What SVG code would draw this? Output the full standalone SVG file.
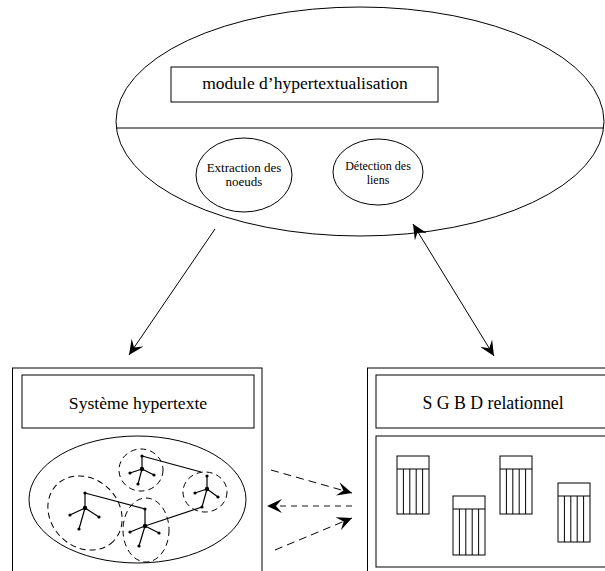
<svg xmlns="http://www.w3.org/2000/svg" width="605" height="571" viewBox="0 0 605 571">
<style>
.s{fill:none;stroke:#000;stroke-width:1}
.w{fill:#fff;stroke:#000;stroke-width:1}
.t{font-family:'Liberation Serif','DejaVu Serif',serif;fill:#000;text-anchor:middle}
.d{fill:none;stroke:#000;stroke-width:1;stroke-dasharray:8 5}
.c{fill:none;stroke:#000;stroke-width:1;stroke-dasharray:6 4}
.tr{fill:none;stroke:#000;stroke-width:1.2}
.n{fill:#000}
</style>
<defs>
<marker id="ah" markerWidth="16" markerHeight="14" refX="15" refY="7" orient="auto-start-reverse" markerUnits="userSpaceOnUse">
<path d="M15,7 L0,0 L6,7 L0,14 Z" fill="#000"/>
</marker>
</defs>

<g id="module">
<ellipse class="w" cx="360" cy="121.5" rx="244" ry="114.5"/>
<line class="s" x1="116" y1="128" x2="604" y2="128"/>
<rect class="w" x="171" y="67" width="267" height="35"/>
<text class="t" x="305" y="89" font-size="17.5" font-family="Liberation Serif, serif">module d’hypertextualisation</text>
</g>

<g id="extraction">
<ellipse class="w" cx="244" cy="175" rx="48" ry="37"/>
<text class="t" x="244" y="172" font-size="13" font-family="Liberation Serif, serif">Extraction des</text>
<text class="t" x="244" y="186" font-size="13" font-family="Liberation Serif, serif">noeuds</text>
</g>

<g id="detection">
<ellipse class="w" cx="378" cy="172" rx="45" ry="33"/>
<text class="t" x="378" y="170" font-size="12" font-family="Liberation Serif, serif">Détection des</text>
<text class="t" x="378" y="184" font-size="12" font-family="Liberation Serif, serif">liens</text>
</g>

<g id="hypertexte">
<rect class="w" x="12.5" y="368" width="249.5" height="210"/>
<rect class="w" x="22" y="375" width="232" height="53"/>
<text class="t" x="138" y="409" font-size="17.6" font-family="Liberation Serif, serif">Système hypertexte</text>
<ellipse class="w" cx="137.5" cy="499.5" rx="108.5" ry="63.5"/>
<ellipse class="c" cx="141" cy="470" rx="22" ry="21"/>
<ellipse class="c" cx="205" cy="492" rx="22" ry="20"/>
<ellipse class="c" cx="85" cy="513" rx="40" ry="34" transform="rotate(45 85 513)"/>
<ellipse class="c" cx="146" cy="530" rx="23" ry="32"/>
<path class="tr" d="M85,493 L85,508 M85,508 L70,515 M85,508 L99,517 M85,508 L79,529 M85,493 L145,509 L145,526 M145,526 L130,532 M145,526 L159,533 M145,526 L139,546 M142,456 L142,469 M142,469 L130,473 M142,469 L154,475 M142,469 L138,484 M142,456 L201,472 M207,476 L207,489 M207,489 L195,493 M207,489 L218,497 M207,489 L202,507 L145,526"/>
<g class="n">
<circle cx="85" cy="493" r="1.6"/><circle cx="85" cy="508" r="2.2"/><circle cx="70" cy="515" r="1.6"/><circle cx="99" cy="517" r="1.6"/><circle cx="79" cy="529" r="1.6"/>
<circle cx="145" cy="509" r="1.6"/><circle cx="145" cy="526" r="2.2"/><circle cx="130" cy="532" r="1.6"/><circle cx="159" cy="533" r="1.6"/><circle cx="139" cy="546" r="1.6"/>
<circle cx="142" cy="456" r="1.6"/><circle cx="142" cy="469" r="2.2"/><circle cx="130" cy="473" r="1.6"/><circle cx="154" cy="475" r="1.6"/><circle cx="138" cy="484" r="1.6"/>
<circle cx="207" cy="476" r="1.6"/><circle cx="207" cy="489" r="2.2"/><circle cx="195" cy="493" r="1.6"/><circle cx="218" cy="497" r="1.6"/><circle cx="202" cy="507" r="1.6"/>
</g>
</g>

<g id="sgbd">
<rect class="w" x="367.5" y="368" width="250" height="210"/>
<rect class="w" x="376" y="375" width="240" height="53"/>
<text class="t" x="493" y="409" font-size="17.8" font-family="Liberation Serif, serif">S G B D relationnel</text>
<rect class="w" x="376" y="436" width="240" height="131"/>
</g>

<g id="tables" class="s">
<rect x="397" y="456" width="32" height="58"/><line x1="397" y1="469" x2="429" y2="469"/>
<path d="M403.4,469V514M409.8,469V514M416.2,469V514M422.6,469V514"/>
<rect x="453" y="496" width="32" height="59"/><line x1="453" y1="509" x2="485" y2="509"/>
<path d="M459.4,509V555M465.8,509V555M472.2,509V555M478.6,509V555"/>
<rect x="500" y="456" width="32" height="58"/><line x1="500" y1="469" x2="532" y2="469"/>
<path d="M506.4,469V514M512.8,469V514M519.2,469V514M525.6,469V514"/>
<rect x="558" y="483" width="32" height="59"/><line x1="558" y1="496" x2="590" y2="496"/>
<path d="M564.4,496V542M570.8,496V542M577.2,496V542M583.6,496V542"/>
</g>

<g id="connectors">
<line class="s" x1="215" y1="229" x2="129" y2="355" marker-end="url(#ah)"/>
<line class="s" x1="413" y1="224" x2="494" y2="356" marker-start="url(#ah)" marker-end="url(#ah)"/>
<line class="d" x1="271" y1="470" x2="352" y2="493" marker-end="url(#ah)"/>
<line x1="352" y1="506" x2="267" y2="506" stroke="#666" stroke-width="1.3" stroke-dasharray="6 5" marker-end="url(#ah)"/>
<line class="d" x1="275" y1="550" x2="352" y2="518" marker-end="url(#ah)"/>
</g>
</svg>
